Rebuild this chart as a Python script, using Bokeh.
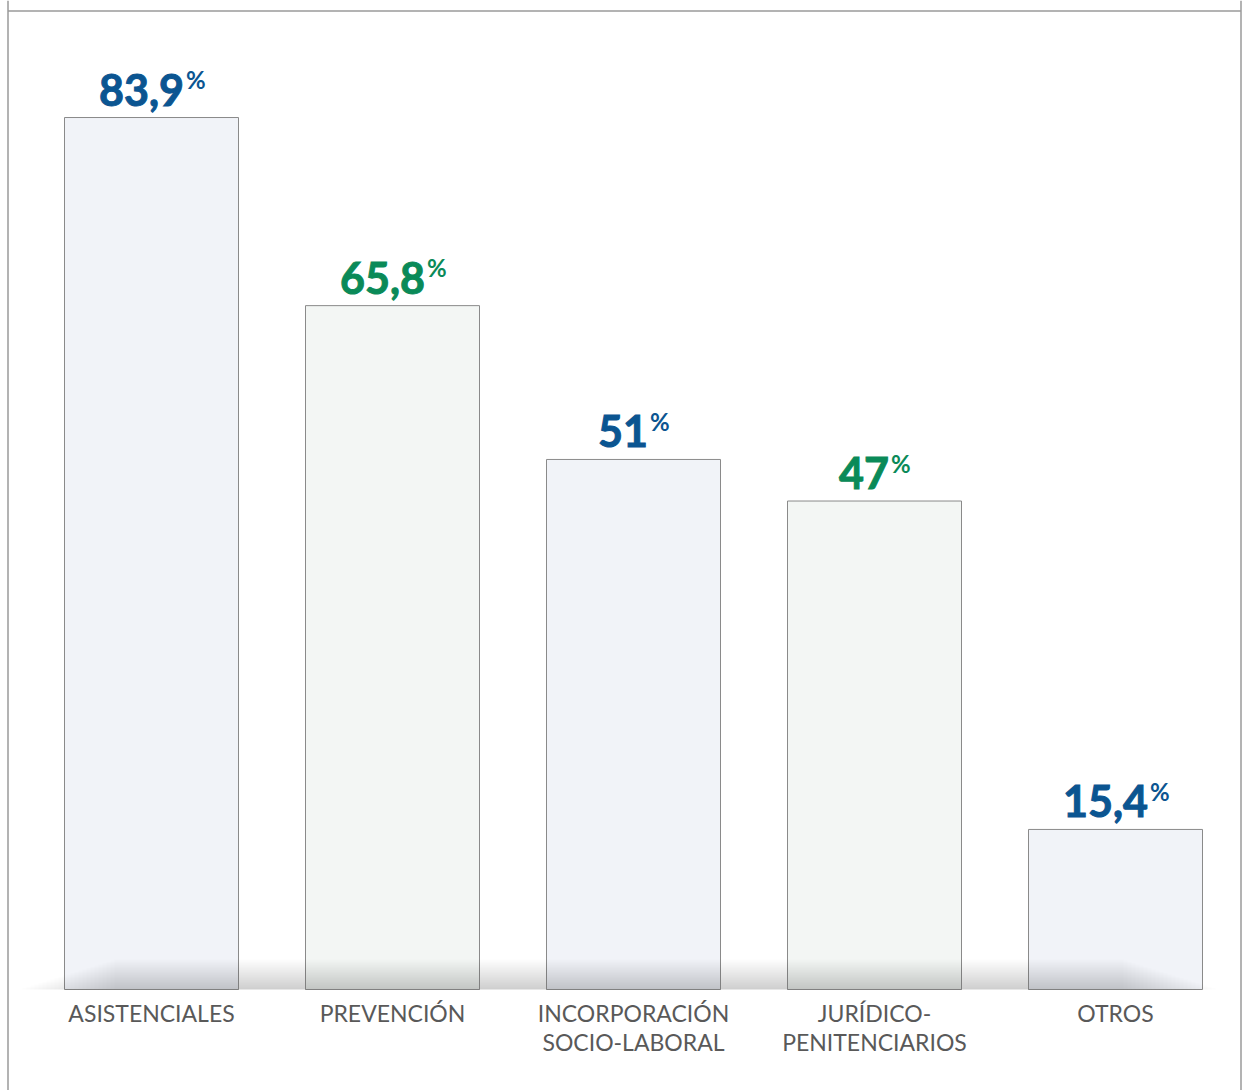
from bokeh.plotting import figure
from bokeh.models import Range1d, Span, ColumnDataSource
from bokeh.core.properties import value
from bokeh.embed import file_html
from bokeh.resources import INLINE

# ---- data ----
categories = ["ASISTENCIALES", "PREVENCIÓN", "INCORPORACIÓN\nSOCIO-LABORAL",
              "JURÍDICO-\nPENITENCIARIOS", "OTROS"]
values = [83.9, 65.8, 51, 47, 15.4]
value_labels = ["83,9", "65,8", "51", "47", "15,4"]
label_colors = ["#0b5591", "#0a8a58", "#0b5591", "#0a8a58", "#0b5591"]
bar_fills = ["#f1f3f8", "#f3f6f4", "#f1f3f8", "#f3f6f4", "#f1f3f8"]

W, H = 1243, 1090
PX_X = 241.0      # px per category step
PX_Y = 10.393     # px per percentage unit
X0 = 151          # pixel of first category centre
Y0 = 989          # pixel of baseline
xl = (0 - X0) / PX_X
xr = xl + W / PX_X
yt = Y0 / PX_Y
yb = yt - H / PX_Y

p = figure(width=W, height=H, x_range=Range1d(xl, xr), y_range=Range1d(yb, yt),
           toolbar_location=None, output_backend="svg", min_border=0)
p.axis.visible = False
p.grid.visible = False
p.outline_line_color = None
p.background_fill_color = "white"
p.border_fill_color = "white"

xs = list(range(len(categories)))

# bars
src = ColumnDataSource(dict(x=xs, top=values, fill=bar_fills))
p.vbar(x="x", top="top", bottom=0, width=174 / PX_X, source=src,
       fill_color="fill", line_color="#8a8a8a", line_width=1)

# soft shadow near baseline
N = 24
for k in range(N):
    top_px = 30.0 * (k + 1) / N
    left_px = 22 + k * 4
    right_px = 1215 - k * 4
    p.quad(left=(left_px - X0) / PX_X, right=(right_px - X0) / PX_X,
           bottom=0, top=top_px / PX_Y, fill_color="#7a7a7a", fill_alpha=0.014,
           line_color=None)

# value labels (number + superscript %)
def num_width(s):
    w = 0.0
    for ch in s:
        w += 11.0 if ch == "," else 25.0
    return w

PCT_W = 19.0
num_off = [(num_width(s) - PCT_W) / 2 - 1 for s in value_labels]
vsrc = ColumnDataSource(dict(x=xs, y=values, t=value_labels, c=label_colors,
                             off=num_off, pct=["%"] * len(xs),
                             poff=[o + 2 for o in num_off]))
p.text(x="x", y="y", text="t", source=vsrc, text_color="c",
       text_outline_color="c",
       text_font=value("Lato"), text_font_style="bold", text_font_size="43px",
       text_align="right", text_baseline="alphabetic",
       x_offset="off", y_offset=-28)
p.text(x="x", y="y", text="pct", source=vsrc, text_color="c",
       text_font=value("Lato"), text_font_style="bold", text_font_size="24px",
       text_align="left", text_baseline="alphabetic",
       x_offset="poff", y_offset=-38)

# category labels (two lines)
line1 = [c.split("\n")[0] for c in categories]
line2 = [c.split("\n")[1] if "\n" in c else "" for c in categories]
csrc = ColumnDataSource(dict(x=xs, y=[0] * len(xs), l1=line1, l2=line2))
for col, off in (("l1", 23), ("l2", 52)):
    p.text(x="x", y="y", text=col, source=csrc, text_color="#595959",
           text_font=value("Lato"), text_font_size="23px",
           text_align="center", text_baseline="alphabetic", y_offset=off)

# frame lines (left, right, top)
p.add_layout(Span(location=(7.5 - X0) / PX_X, dimension="height",
                  line_color="#9a9a9a", line_width=1.5))
p.add_layout(Span(location=(1240.5 - X0) / PX_X, dimension="height",
                  line_color="#9a9a9a", line_width=1.5))
p.segment(x0=(7.5 - X0) / PX_X, x1=(1240.5 - X0) / PX_X,
          y0=(Y0 - 10.5) / PX_Y, y1=(Y0 - 10.5) / PX_Y,
          line_color="#9a9a9a", line_width=1.5)

open("out.html", "w").write(file_html(p, INLINE))
